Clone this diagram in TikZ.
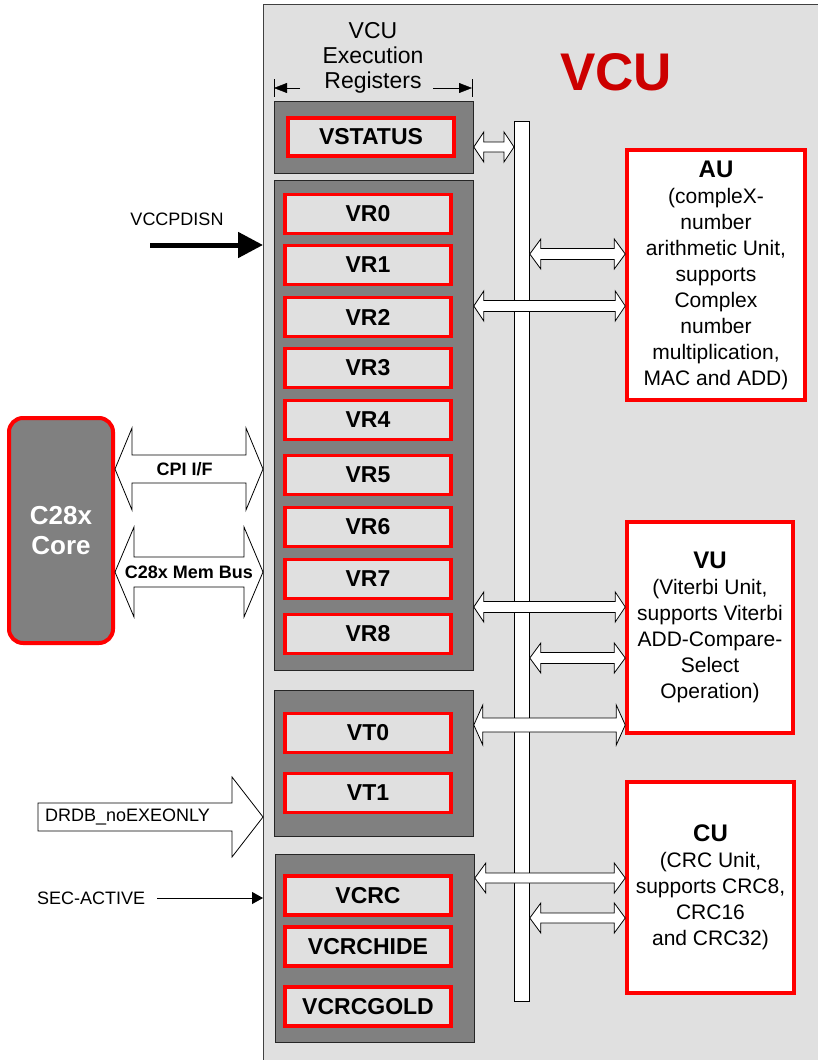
\documentclass[tikz,border=0pt]{standalone}
\usepackage{fontspec}
\setmainfont{Liberation Sans}
\usetikzlibrary{calc,arrows.meta}

\definecolor{vcubg}{HTML}{E0E0E0}
\definecolor{grpgray}{HTML}{808080}
\definecolor{regred}{HTML}{FF0000}
\definecolor{titlered}{HTML}{CC0000}

\tikzset{
  grpbox/.style={draw=black!85, fill=grpgray, line width=0.8pt, anchor=north west, minimum width=199pt, inner sep=0pt},
  regbox/.style={draw=regred, fill=vcubg, line width=3.5pt, minimum width=166pt, minimum height=39pt, inner sep=0pt,
                 font=\bfseries\fontsize{23}{25}\selectfont},
  unitbox/.style={draw=regred, fill=white, line width=3.5pt, inner sep=0pt, align=center,
                  font=\fontsize{21}{26}\selectfont},
  blockarrow/.style={draw=black, fill=white, line width=0.8pt, line join=miter},
  siglbl/.style={inner sep=0pt, font=\fontsize{18}{20}\selectfont},
  arrlbl/.style={inner sep=0pt, font=\bfseries\fontsize{18}{20}\selectfont},
}

% hollow double arrow between two points at the same height
\newcommand{\dblarrow}[6][]{%
  \draw[blockarrow,#1] let \p1=(#2), \p2=(#3) in
    (\x1,\y1) -- (\x1+#6,\y1+#5) -- (\x1+#6,\y1+#4) -- (\x2-#6,\y1+#4) -- (\x2-#6,\y1+#5)
    -- (\x2,\y1) -- (\x2-#6,\y1-#5) -- (\x2-#6,\y1-#4) -- (\x1+#6,\y1-#4) -- (\x1+#6,\y1-#5) -- cycle;}
\newcommand{\unitname}[1]{{\bfseries\fontsize{24}{28}\selectfont #1}}

\begin{document}
\begin{tikzpicture}[x=1pt,y=-1pt]
  \useasboundingbox (0,0) rectangle (818,1060);

  % VCU block
  \node[draw=black!75, fill=vcubg, line width=1pt, anchor=north west,
        minimum width=580, minimum height=1080] (vcu) at (263,4) {};
  \node[anchor=base, text=titlered, font=\bfseries\fontsize{53}{56}\selectfont] (vcutitle) at (616,90) {VCU};

  \node[align=center, font=\fontsize{23}{25}\selectfont] (regtitle) at (373,58) {VCU\\Execution\\Registers};
  \coordinate (dimL) at (274,88);
  \coordinate (dimR) at (472,88);
  \draw ($(dimL)+(0,-9)$) -- ($(dimL)+(0,9)$);
  \draw ($(dimR)+(0,-9)$) -- ($(dimR)+(0,9)$);
  \draw[-{Triangle[length=13pt,width=10pt]}] ($(dimL)+(26,0)$) -- (dimL);
  \draw[-{Triangle[length=13pt,width=10pt]}] ($(dimR)+(-39,0)$) -- (dimR);

  % register groups
  \node[grpbox, minimum height=72] (stgrp) at (274,101) {};
  \node[grpbox, minimum height=490] (vrgrp) at (274,180) {};
  \node[grpbox, minimum height=146] (vtgrp) at (274,690) {};
  \node[grpbox, minimum height=188] (crcgrp) at (275,854) {};

  \node[regbox, minimum height=38] (vstatus) at (371,137) {VSTATUS};
  \foreach \i/\yc in {0/214, 1/265, 2/317, 3/368, 4/420, 5/475, 6/527, 7/579, 8/634}
    \node[regbox] (vr\i) at (368,\yc) {VR\i};
  \node[regbox] (vt0) at (368,733) {VT0};
  \node[regbox] (vt1) at (368,793) {VT1};
  \node[regbox] (vcrc) at (368,895.5) {VCRC};
  \node[regbox] (vcrchide) at (368,946.5) {VCRCHIDE};
  \node[regbox] (vcrcgold) at (368,1006.5) {VCRCGOLD};

  % internal bus
  \node[draw=black, fill=white, line width=0.8pt, anchor=north west, inner sep=0pt,
        minimum width=15, minimum height=880] (bus) at (514,121) {};

  % units
  \node[unitbox, minimum width=178, minimum height=250] (au) at (716,275)
    {\unitname{AU}\\(compleX-\\number\\arithmetic Unit,\\supports\\Complex\\number\\multiplication,\\MAC and ADD)};
  \node[unitbox, minimum width=166, minimum height=211] (vu) at (710,627.5)
    {\unitname{VU}\\(Viterbi Unit,\\supports Viterbi\\ADD-Compare-\\Select\\Operation)};
  \node[unitbox, minimum width=167, minimum height=211] (cu) at (710.5,887.5)
    {\unitname{CU}\\(CRC Unit,\\supports CRC8,\\CRC16\\and CRC32)};

  % arrow levels
  \coordinate (lvST) at (0,147);
  \coordinate (lvAUa) at (0,254);
  \coordinate (lvAUb) at (0,306);
  \coordinate (lvVUa) at (0,607);
  \coordinate (lvVUb) at (0,658);
  \coordinate (lvVUc) at (0,725);
  \coordinate (lvCUa) at (0,878);
  \coordinate (lvCUb) at (0,918);
  \coordinate (lvCPI) at (0,469);
  \coordinate (lvMEM) at (0,572);
  \coordinate (lvDR) at (0,817);

  \dblarrow{stgrp.east |- lvST}{bus.west |- lvST}{5pt}{15pt}{10pt}
  \dblarrow{bus.east |- lvAUa}{au.west |- lvAUa}{5.5pt}{15pt}{11pt}
  \dblarrow{vrgrp.east |- lvAUb}{au.west |- lvAUb}{5.5pt}{15pt}{10pt}
  \dblarrow{vrgrp.east |- lvVUa}{vu.west |- lvVUa}{5.5pt}{15pt}{10pt}
  \dblarrow{bus.east |- lvVUb}{vu.west |- lvVUb}{5.5pt}{15pt}{11pt}
  \dblarrow{vtgrp.east |- lvVUc}{vu.west |- lvVUc}{7pt}{20pt}{9pt}
  \dblarrow{crcgrp.east |- lvCUa}{cu.west |- lvCUa}{5pt}{15pt}{11pt}
  \dblarrow{bus.east |- lvCUb}{cu.west |- lvCUb}{5pt}{15pt}{11pt}

  % C28x core side
  \node[draw=regred, fill=grpgray, line width=4pt, rounded corners=14pt, minimum width=104, minimum height=225,
        text=white, align=center, font=\bfseries\fontsize{26}{30}\selectfont] (core) at (61,530.5) {C28x\\Core};

  \dblarrow{core.east |- lvCPI}{vcu.west |- lvCPI}{14pt}{41pt}{17pt}
  \dblarrow{core.east |- lvMEM}{vcu.west |- lvMEM}{15pt}{45pt}{19pt}
  \node[arrlbl] (cpilbl) at ($(core.east |- lvCPI)!0.47!(vcu.west |- lvCPI)$) {CPI I/F};
  \node[arrlbl] (memlbl) at ($(core.east |- lvMEM)!0.5!(vcu.west |- lvMEM)$) {C28x Mem Bus};

  % input signals
  \coordinate (vccstart) at (150,245);
  \draw[line width=5pt, -{Triangle[length=25pt,width=25pt]}] (vccstart) -- (vcu.west |- vccstart);
  \node[siglbl] (vcclbl) at (177,219) {VCCPDISN};

  \draw[blockarrow] let \p1=(vcu.west |- lvDR) in
    (\x1,\y1) -- (\x1-31pt,\y1+40pt) -- (\x1-31pt,\y1+14pt) -- (\x1-225pt,\y1+14pt)
    -- (\x1-225pt,\y1-14pt) -- (\x1-31pt,\y1-14pt) -- (\x1-31pt,\y1-40pt) -- cycle;
  \node[siglbl, anchor=west] (drlbl) at (45,817) {DRDB\_noEXEONLY};

  \coordinate (secstart) at (157,898);
  \draw[line width=1pt, -{Triangle[length=11pt,width=12pt]}] (secstart) -- (vcu.west |- secstart);
  \node[siglbl, anchor=west] (seclbl) at (37,898) {SEC-ACTIVE};
\end{tikzpicture}
\end{document}
